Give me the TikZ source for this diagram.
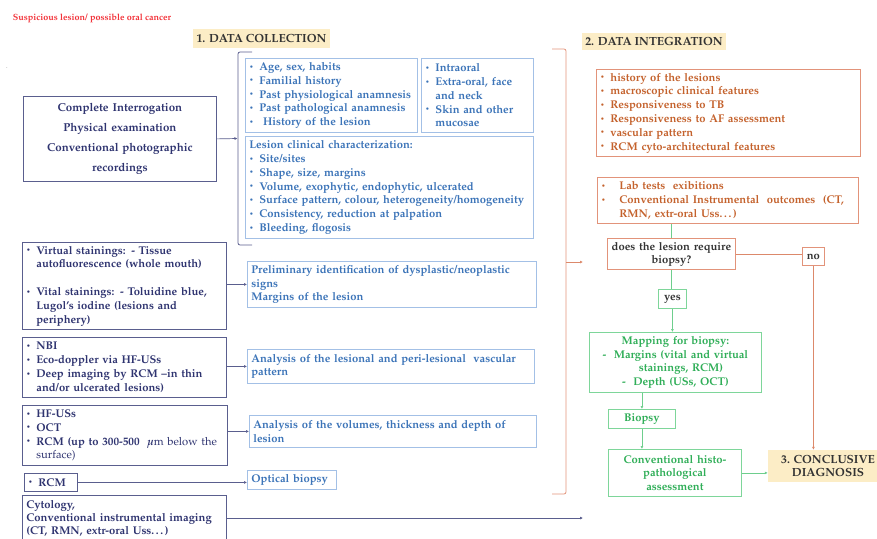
\documentclass[tikz,border=0pt]{standalone}
\usepackage[T1]{fontenc}
\usepackage{mathpazo}
\usepackage{amsmath}
\usepackage{tikz}
\usetikzlibrary{arrows.meta}

\definecolor{navy}{HTML}{2F3470}
\definecolor{navyline}{HTML}{5A5E8E}
\definecolor{bluetext}{HTML}{3C74B8}
\definecolor{blueline}{HTML}{A3C0E6}
\definecolor{orangetext}{HTML}{C4622D}
\definecolor{orangeline}{HTML}{E2937A}
\definecolor{greentext}{HTML}{30AE58}
\definecolor{greenline}{HTML}{7ED69A}
\definecolor{headfill}{HTML}{FCEDC6}
\definecolor{redtitle}{HTML}{F2333A}
\definecolor{darktext}{HTML}{333333}

\newcommand{\itm}{\makebox[10pt][l]{\raisebox{0.25ex}{\scriptsize\textbullet}}}
\newcommand{\cnt}{\hspace*{10pt}}

\begin{document}
\begin{tikzpicture}[x=1pt,y=-1pt,
        txt/.style={font=\bfseries\fontsize{11.2}{13.8}\selectfont,inner xsep=4pt,inner ysep=2pt,anchor=north west,align=left},
        navybox/.style={txt,draw=navyline,text=navy,line width=0.8pt},
        bluebox/.style={txt,draw=blueline,text=bluetext,line width=0.8pt},
        orangebox/.style={txt,draw=orangeline,text=orangetext,line width=0.8pt},
        greenbox/.style={txt,draw=greenline,text=greentext,line width=0.8pt,align=center},
        header/.style={fill=headfill,text=darktext,font=\bfseries\fontsize{11.8}{13}\selectfont,inner sep=3pt,align=center},
        navylink/.style={draw=navyline,line width=0.7pt,-{Latex[length=3pt,width=3pt]}},
        orangelink/.style={draw=orangeline!80!orangetext,line width=0.7pt,-{Latex[length=3pt,width=3pt]}},
        greenlink/.style={draw=greenline!80!greentext,line width=0.7pt,-{Latex[length=3pt,width=3pt]}}
    ]
    \useasboundingbox (0,0) rectangle (877,538);

    %--- titles ---
    \node[text=redtitle,font=\bfseries\fontsize{9}{10}\selectfont] (suspect) at (92,18) {Suspicious lesion/ possible oral cancer};
    \node[font=\tiny] (dot) at (7,68) {.};
    \node[header,minimum width=137,minimum height=19] (collect) at (261.5,38.5) {1. DATA COLLECTION};
    \node[header,minimum width=142,minimum height=17] (integr) at (654,41.5) {2. DATA INTEGRATION};

    %--- data collection, left column ---
    \node[navybox,align=center,text width=185,minimum height=85,font=\bfseries\fontsize{11.5}{20}\selectfont] (interrog) at (23,96)
        {Complete Interrogation\\Physical examination\\Conventional photographic\\recordings};
    \node[navybox,text width=196,minimum height=87] (stain) at (22,242)
        {\itm Virtual stainings: - Tissue\\\cnt autofluorescence (whole mouth)\\[13.8pt]
         \itm Vital stainings: - Toluidine blue,\\\cnt Lugol's iodine (lesions and\\\cnt periphery)};
    \node[navybox,text width=196,minimum height=60] (nbi) at (22,337)
        {\itm NBI\\\itm Eco-doppler via HF-USs\\\itm Deep imaging by RCM --in thin\\\cnt and/or ulcerated lesions)};
    \node[navybox,text width=197,minimum height=60] (hfus) at (22,405)
        {\itm HF-USs\\\itm OCT\\\itm RCM (up to 300-500 \ $\boldsymbol{\mu}$\textmd{m below the}\\\cnt \textmd{surface)}};
    \node[navybox,text width=45,minimum height=18,inner ysep=1pt] (rcm) at (24,473) {\itm RCM};
    \node[navybox,text width=196,minimum height=46,inner ysep=1pt,font=\bfseries\fontsize{11.2}{13.2}\selectfont] (cyto) at (22,495)
        {Cytology,\\Conventional instrumental imaging\\(CT, RMN, extr-oral Uss\dots)\\[-2pt]};

    %--- data collection, right column ---
    \node[bluebox,text width=164,minimum height=74] (hist) at (245,58)
        {\itm Age, sex, habits\\\itm Familial history\\\itm Past physiological anamnesis\\\itm Past pathological anamnesis\\\itm\ History of the lesion};
    \node[bluebox,text width=104,minimum height=74] (site) at (421,58)
        {\itm Intraoral\\\itm Extra-oral, face\\\cnt and neck\\\itm Skin and other\\\cnt mucosae};
    \node[bluebox,text width=280,minimum height=102] (clin) at (245,136)
        {Lesion clinical characterization:\\\itm Site/sites\\\itm Shape, size, margins\\\itm Volume, exophytic, endophytic, ulcerated\\
         \itm Surface pattern, colour, heterogeneity/homogeneity\\\itm Consistency, reduction at palpation\\\itm Bleeding, flogosis};
    \node[bluebox,text width=281,minimum height=46] (prelim) at (247,261)
        {Preliminary identification of dysplastic/neoplastic\\signs\\Margins of the lesion};
    \node[bluebox,text width=279,minimum height=34] (vasc) at (247,349)
        {Analysis of the lesional and peri-lesional \ vascular\\pattern};
    \node[bluebox,text width=279,minimum height=32] (volum) at (249,415)
        {Analysis of the volumes, thickness and depth of\\lesion};
    \node[bluebox,text width=81,minimum height=19,inner ysep=1pt] (optic) at (247,470) {Optical biopsy};

    %--- data integration ---
    \node[orangebox,text width=256,minimum height=87] (integ1) at (596,69)
        {\itm history of the lesions\\\itm macroscopic clinical features\\\itm Responsiveness to TB\\
         \itm Responsiveness to AF assessment\\\itm vascular pattern\\\itm RCM cyto-architectural features};
    \node[orangebox,text width=253,minimum height=46] (integ2) at (597,177)
        {\makebox[18pt][l]{\raisebox{0.25ex}{\scriptsize\textbullet}}Lab tests \ exibitions\\
         \makebox[18pt][l]{\raisebox{0.25ex}{\scriptsize\textbullet}}Conventional Instrumental \ outcomes \ (CT,\\\hspace*{18pt}RMN, extr-oral Uss\dots)};
    \node[orangebox,text=darktext,align=center,text width=120,minimum height=31,font=\bfseries\fontsize{11.2}{13}\selectfont] (decide) at (607,238)
        {does the lesion require\\biopsy?};
    \node[orangebox,text=darktext,align=center,text width=14,minimum height=18,inner xsep=4pt,inner ysep=1pt] (no) at (802,247) {no};
    \node[greenbox,text=darktext,text width=20,minimum height=19,inner ysep=1pt] (yes) at (658,289) {yes};
    \node[greenbox,text width=164,minimum height=60,font=\bfseries\fontsize{11.2}{13.5}\selectfont] (mapping) at (589,332)
        {Mapping for biopsy:\\- \ Margins (vital and virtual\\\ \ \ stainings, RCM)\\- \ Depth (USs, OCT)};
    \node[greenbox,text width=59,minimum height=19,inner ysep=1pt] (biopsy) at (608,409) {Biopsy};
    \node[greenbox,text width=125,minimum height=47,font=\bfseries\fontsize{11.2}{13.5}\selectfont] (histo) at (608,449)
        {Conventional histo-\\pathological\\assessment};
    \node[header,minimum width=120,minimum height=32,font=\bfseries\fontsize{11.8}{12.5}\selectfont] (concl) at (828,466)
        {3. CONCLUSIVE\\DIAGNOSIS};

    %--- brackets ---
    \draw[navyline,line width=0.8pt,rounded corners=2] (252,52) -- (238,52) -- (238,245) -- (252,245);
    \draw[orangeline,line width=0.8pt,rounded corners=2] (552,49) -- (566,49) -- (566,494) -- (552,494);
    \coordinate (lbr) at (237.5,138.5);
    \coordinate (rbr) at (566,262);
    \coordinate (rtip) at (583,262);
    \coordinate (cend) at (583,518);

    %--- connectors ---
    \draw[navylink] (interrog.east) -- (lbr);
    \draw[navylink] (stain.east |- prelim.west) -- (prelim.west);
    \draw[navylink] (nbi.east |- vasc.west) -- (vasc.west);
    \draw[navylink] (hfus.east |- volum.west) -- (volum.west);
    \draw[navylink] (rcm.east) -- (rcm.east -| optic.west);
    \draw[navylink] (cyto.east |- cend) -- (cend);
    \draw[orangelink] (rbr) -- (rtip);
    \draw[greenline!80!greentext,line width=0.7pt] (decide.north) -- (decide.north |- integ2.south);
    \draw[greenline!80!greentext,line width=0.7pt] (decide.south) -- (decide.south |- yes.north);
    \draw[orangeline!80!orangetext,line width=0.7pt] (decide.east) -- (decide.east -| no.west);
    \draw[orangelink] (no.south) -- (no.south |- concl.north);
    \draw[greenlink] (yes.south) -- (yes.south |- mapping.north);
    \draw[greenlink] (biopsy.north |- mapping.south) -- (biopsy.north);
    \draw[greenlink] (biopsy.south) -- (biopsy.south |- histo.north);
    \draw[greenlink] (histo.east) -- (histo.east -| concl.west);
\end{tikzpicture}
\end{document}
